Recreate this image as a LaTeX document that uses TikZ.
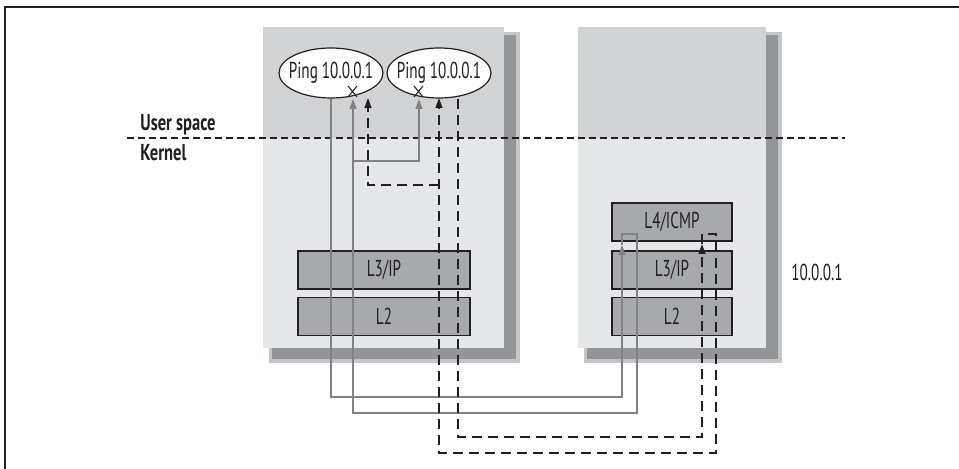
\documentclass[tikz,border=0pt]{standalone}
\usepackage{fontspec}
\setmainfont[FakeStretch=0.66, BoldFeatures={FakeStretch=0.72}]{PT Sans}
\usetikzlibrary{arrows.meta,shapes.geometric}

\definecolor{userbg}{HTML}{D1D3D4}
\definecolor{kernbg}{HTML}{E6E7E8}
\definecolor{shadowdk}{HTML}{939598}
\definecolor{shadowlt}{HTML}{C4C6C8}
\definecolor{layerbg}{HTML}{A7A9AC}
\definecolor{wire}{HTML}{808285}
\definecolor{ink}{HTML}{231F20}

\begin{document}
\begin{tikzpicture}[
  x=0.5pt, y=-0.5pt,
  every node/.style={inner sep=1pt, text=ink, font=\fontsize{11.5}{13}\selectfont},
  ping/.style={ellipse, draw=ink, line width=0.6pt, fill=white,
    minimum width=52pt, minimum height=25pt, inner ysep=0pt, inner xsep=-8pt},
  layer/.style={draw=ink, line width=0.75pt, fill=layerbg,
    minimum height=19pt, inner sep=0pt},
  side/.style={anchor=west, font=\fontsize{11.5}{13}\selectfont\bfseries},
  % the two wire kinds: gray solid for the first ping, black dashed for the second
  gwire/.style={draw=wire, line width=0.7pt},
  dwire/.style={draw=ink, line width=0.7pt, dash pattern=on 5pt off 3pt},
  tip/.style={-{Triangle[length=5pt,width=3.5pt]}},
  xmark/.style={draw=ink, line width=0.5pt}]

  \useasboundingbox (0,0) rectangle (959,469);

  % page frame
  \draw[ink, line width=1pt] (959,7) -- (5,7) -- (5,469);

  % hosts: shadow, then user and kernel parts
  \fill[shadowlt] (269,32) rectangle (520,363);
  \fill[shadowdk] (272,35) rectangle (516,359);
  \fill[userbg] (263,27) rectangle (504,138);
  \fill[kernbg] (263,138) rectangle (504,348);

  \fill[shadowlt] (584,32) rectangle (782,363);
  \fill[shadowdk] (587,35) rectangle (778,359);
  \fill[userbg] (578,27) rectangle (766,138);
  \fill[kernbg] (578,138) rectangle (766,348);

  % user space / kernel border
  \draw[ink, line width=0.7pt, dash pattern=on 3.5pt off 2pt] (127,138) -- (845,138);
  \node[side] (user) at (138,125) {User space};
  \node[side] (kern) at (138,153) {Kernel};

  % processes
  \node[ping] (pingA) at (331,73) {Ping 10.0.0.1};
  \node[ping] (pingB) at (439,73) {Ping 10.0.0.1};

  % stacks
  \node[layer, minimum width=86pt] (ipA) at (384,270)   {L3/IP};
  \node[layer, minimum width=86pt] (l2A) at (384,316.5) {L2};
  \node[layer, minimum width=60pt] (icmpB) at (672,222)   {L4/ICMP};
  \node[layer, minimum width=60pt] (ipB)   at (672,270)   {L3/IP};
  \node[layer, minimum width=60pt] (l2B)   at (672,316.5) {L2};
  \node (addr) at (817,272) {10.0.0.1};

  % turn points inside L4/ICMP
  \coordinate (gin)  at (622,245);
  \coordinate (gout) at (637,234);
  \coordinate (din)  at (702,244);
  \coordinate (dout) at (716,234);

  % first ping
  \draw[gwire, tip] (pingA.south) |- (622,397) -- (gin);
  \draw[gwire, tip] (gin) |- (gout) |- (353,413) -- (353,99);
  \draw[gwire, tip] (353,161) -| (419,99);

  % second ping
  \draw[dwire, tip] ([xshift=9.5pt]pingB.south) |- (702,437) -- (din);
  \draw[dwire, tip] (din) |- (dout) |- (439,453) -- (439,98);
  \draw[dwire, tip] (439,185) -| (368,98);

  % replies dropped
  \draw[xmark] (348,86) -- (357,97) (357,86) -- (348,97);
  \draw[xmark] (414,86) -- (423,97) (423,86) -- (414,97);
\end{tikzpicture}
\end{document}
